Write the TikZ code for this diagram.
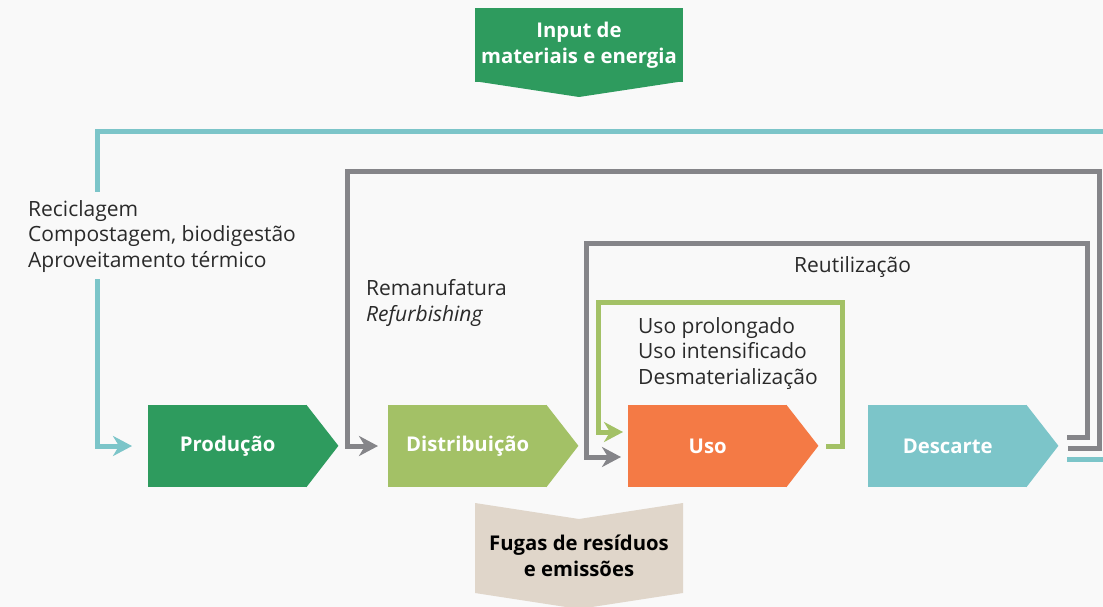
\documentclass[tikz,border=0pt]{standalone}
\usepackage{fontspec}
\setmainfont{Open Sans}
\usetikzlibrary{arrows.meta,positioning}
\definecolor{fundo}{HTML}{F9F9F9}
\definecolor{verde}{HTML}{2E9B5E}
\definecolor{oliva}{HTML}{A3C166}
\definecolor{laranja}{HTML}{F47A45}
\definecolor{turquesa}{HTML}{7CC5C9}
\definecolor{cinza}{HTML}{858589}
\definecolor{bege}{HTML}{E0D6CA}
\definecolor{texto}{HTML}{2A2A2A}
\tikzset{>={Stealth[length=19pt,width=20pt,inset=6pt]}}

\begin{document}
\begin{tikzpicture}[x=1pt,y=-1pt,
  etapa/.style={minimum width=159pt,minimum height=82pt,inner sep=0pt,
    anchor=west,text=white,font=\fontsize{20.3}{24}\selectfont\bfseries},
  fluxo/.style={line width=5pt,->},
  linha/.style={line width=5pt},
  rotulo/.style={anchor=base west,align=left,inner sep=0pt,text=texto,
    font=\fontsize{21}{25.5}\selectfont}]
\fill[fundo] (0,0) rectangle (1103,607);
\useasboundingbox (0,0) rectangle (1103,607);

% entrada e saida
\node[fill=verde,minimum width=208pt,minimum height=74pt,inner sep=0pt,
  text=white,align=center,font=\fontsize{20.3}{26}\selectfont\bfseries]
  (input) at (579,45) {Input de\\materiais e energia};
\fill[verde] ([yshift=1pt]input.south west) -- ([yshift=1pt]input.south east)
  -- (579,97) -- cycle;
\fill[bege] (475,503) -- (579,519) -- (683,503) -- (683,593)
  -- (579,609) -- (475,593) -- cycle;
\node[align=center,inner sep=0pt,font=\fontsize{20.3}{26}\selectfont\bfseries]
  (fugas) at (579,556) {Fugas de resíduos\\e emissões};

% etapas
\node[etapa,fill=verde]    (prod) at (148,446) {Produção};
\node[etapa,fill=oliva]    (dist) at (388,446) {Distribuição};
\node[etapa,fill=laranja]  (uso)  at (628,446) {Uso};
\node[etapa,fill=turquesa] (desc) at (868,446) {Descarte};
\fill[verde]    ([xshift=-1pt]prod.north east) -- ++(32,41)
  -- ([xshift=-1pt]prod.south east) -- cycle;
\fill[oliva]    ([xshift=-1pt]dist.north east) -- ++(32,41)
  -- ([xshift=-1pt]dist.south east) -- cycle;
\fill[laranja]  ([xshift=-1pt]uso.north east)  -- ++(32,41)
  -- ([xshift=-1pt]uso.south east)  -- cycle;
\fill[turquesa] ([xshift=-1pt]desc.north east) -- ++(32,41)
  -- ([xshift=-1pt]desc.south east) -- cycle;

% ciclos
\draw[linha,turquesa] ([xshift=40pt,yshift=-13pt]desc.east) -- (1103,459);
\draw[linha,turquesa] (1103,132) -| (97,192);
\draw[fluxo,turquesa] (97,279) |- ([xshift=-16pt]prod.west);
\draw[fluxo,cinza] ([xshift=41pt,yshift=-2pt]desc.east) -- (1099,448)
  |- (347,171) |- ([xshift=-10pt]dist.west);
\draw[fluxo,cinza] ([xshift=40pt,yshift=9pt]desc.east) -- (1087,437)
  |- (586,243) |- ([xshift=-7pt,yshift=-11pt]uso.west);
\draw[fluxo,oliva] ([xshift=39pt]uso.east) -- ++(16,0)
  |- (598,302) |- ([xshift=-5pt,yshift=14pt]uso.west);

% textos (base = ultima linha)
\node[rotulo] (recicla) at (28,267)
  {Reciclagem\\Compostagem, biodigestão\\Aproveitamento térmico};
\node[rotulo] (reman) at (366,321) {Remanufatura\\\textit{Refurbishing}};
\node[rotulo] (reut) at (794,272) {Reutilização};
\node[rotulo] (prolong) at (638,384)
  {Uso prolongado\\Uso intensificado\\Desmaterialização};
\end{tikzpicture}
\end{document}
